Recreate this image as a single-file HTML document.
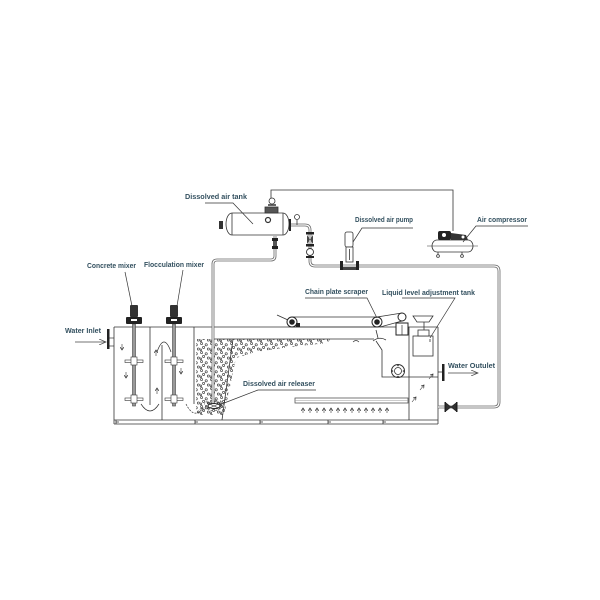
<!DOCTYPE html>
<html><head><meta charset="utf-8"><style>
html,body{margin:0;padding:0;background:#fff;}
svg{display:block;}
text{font-family:"Liberation Sans",sans-serif;font-weight:bold;font-size:7px;fill:#33505f;}
</style></head><body>
<svg width="600" height="600" viewBox="0 0 600 600" xmlns="http://www.w3.org/2000/svg">
<defs>
<pattern id="bub" width="10" height="9" patternUnits="userSpaceOnUse">
<g fill="none" stroke="#3a3a3a" stroke-width="0.65">
<circle cx="1.5" cy="1.5" r="1.1"/><circle cx="6.2" cy="2.8" r="1.1"/><circle cx="3.6" cy="5.4" r="1.1"/><circle cx="8.4" cy="7" r="1.1"/><circle cx="0.8" cy="7.8" r="0.9"/>
</g></pattern>
<pattern id="bub2" width="5" height="5" patternUnits="userSpaceOnUse">
<g fill="none" stroke="#333" stroke-width="0.6"><circle cx="1.2" cy="1.2" r="0.9"/><circle cx="3.7" cy="3.5" r="0.9"/></g></pattern>
<marker id="ah" markerWidth="4" markerHeight="4" refX="3" refY="2" orient="auto" markerUnits="userSpaceOnUse"><path d="M0,0 L3,2 L0,4" fill="none" stroke="#333" stroke-width="0.7"/></marker>
<marker id="oa" markerWidth="8" markerHeight="6" refX="7" refY="3" orient="auto" markerUnits="userSpaceOnUse"><path d="M0,0 L7,3 L0,6" fill="none" stroke="#444" stroke-width="0.7"/></marker>
</defs>
<rect width="600" height="600" fill="#fff"/>

<!-- bubbles -->
<polygon points="196,339 330,339 328,343 290,347 255,352 236,358 224,415 196,415" fill="url(#bub)"/>
<ellipse cx="214" cy="405" rx="10" ry="6" fill="url(#bub2)"/>

<g stroke="#333" stroke-width="0.8" fill="none">
<!-- tank -->
<line x1="114" y1="327" x2="438" y2="327"/>
<line x1="114" y1="327" x2="114" y2="424"/>
<line x1="438" y1="327" x2="438" y2="424"/>
<line x1="114" y1="420" x2="438" y2="420"/>
<line x1="114" y1="424" x2="438" y2="424"/>
<path d="M116,420 V424 M116,422 H119 M195,420 V424 M195,422 H198 M260,420 V424 M260,422 H263 M328,420 V424 M328,422 H331 M383,420 V424 M383,422 H386"/>
<!-- partitions -->
<line x1="150" y1="327" x2="150" y2="405"/>
<line x1="162" y1="345" x2="162" y2="420"/>
<line x1="194" y1="327" x2="194" y2="404"/>
<line x1="233" y1="339" x2="222" y2="420"/>
<line x1="409" y1="327" x2="409" y2="420"/>
<!-- scum line -->
<line x1="213" y1="339" x2="374" y2="339"/>
<path d="M353,342 Q356,339 359,342" stroke-width="0.6"/>
<!-- sludge trough -->
<path d="M376,330 L378,338 M373,341 Q379,336 386,340 M376,341 L382,350 L382,377 L438,377"/>
<circle cx="398" cy="371" r="6.5" stroke-width="1"/>
<circle cx="398" cy="371" r="3.5"/>
</g>
<g fill="#333"><circle cx="398" cy="365.5" r="0.8"/><circle cx="398" cy="376.5" r="0.8"/><circle cx="392.5" cy="371" r="0.8"/><circle cx="403.5" cy="371" r="0.8"/></g>

<!-- liquid level tank -->
<g stroke="#333" stroke-width="0.8" fill="#fff">
<rect x="413" y="336" width="20" height="20"/>
<rect x="418" y="330" width="11" height="6"/>
<line x1="424" y1="322" x2="424" y2="330"/>
<path d="M413,316 L433,316 L429,322 L417,322 Z"/>
<line x1="430" y1="339" x2="430" y2="342"/>
</g>

<!-- scraper -->
<g stroke="#333" stroke-width="0.8" fill="none">
<line x1="292" y1="317" x2="377" y2="317"/>
<line x1="292" y1="327" x2="377" y2="327"/>
<line x1="277" y1="315" x2="288" y2="320"/>
<line x1="377" y1="317" x2="402" y2="313"/>
<line x1="380" y1="327" x2="402" y2="321"/>
</g>
<g stroke="#222" stroke-width="1" fill="#fff">
<circle cx="292" cy="322" r="5"/><circle cx="377" cy="322" r="5"/>
<circle cx="402" cy="317" r="4"/>
<rect x="396" y="323" width="12" height="12"/>
</g>
<g fill="#222"><circle cx="292" cy="322" r="2.8"/><circle cx="377" cy="322" r="2.8"/><rect x="296" y="323" width="4" height="4"/></g>
<line x1="402" y1="325" x2="402" y2="335" stroke="#333" stroke-width="0.7"/>

<!-- perforated pipe -->
<rect x="295" y="398" width="113" height="5" fill="#fff" stroke="#555" stroke-width="0.8"/>
<line x1="295" y1="400.5" x2="408" y2="400.5" stroke="#999" stroke-width="0.5"/>
<g stroke="#333" stroke-width="0.6" marker-end="url(#ah)">
<line x1="303" y1="413" x2="303" y2="408"/><line x1="310" y1="413" x2="310" y2="408"/><line x1="317" y1="413" x2="317" y2="408"/><line x1="324" y1="413" x2="324" y2="408"/><line x1="331" y1="413" x2="331" y2="408"/><line x1="338" y1="413" x2="338" y2="408"/><line x1="345" y1="413" x2="345" y2="408"/><line x1="352" y1="413" x2="352" y2="408"/><line x1="359" y1="413" x2="359" y2="408"/><line x1="366" y1="413" x2="366" y2="408"/><line x1="373" y1="413" x2="373" y2="408"/><line x1="380" y1="413" x2="380" y2="408"/><line x1="387" y1="413" x2="387" y2="408"/>
<!-- chamber arrows -->
<line x1="122" y1="344" x2="122" y2="350"/>
<line x1="126" y1="372" x2="126" y2="378"/>
<line x1="156" y1="356" x2="156" y2="350"/>
<line x1="157" y1="394" x2="157" y2="388"/>
<line x1="181" y1="368" x2="181" y2="374"/>
<line x1="412" y1="402" x2="416" y2="397"/>
<line x1="420" y1="390" x2="424" y2="385"/>
<line x1="429" y1="379" x2="433" y2="374"/>
</g>
<g stroke="#333" stroke-width="0.7" fill="none">
<path d="M141,404 Q150,418 159,404"/>
<path d="M157,352 Q164,332 171,352"/>
<path d="M186,404 Q194,420 203,408" stroke-dasharray="2,1.2" marker-end="url(#ah)"/>
</g>

<!-- mixers -->
<g>
<rect x="132.5" y="324" width="3" height="82" fill="#999" stroke="#444" stroke-width="0.6"/>
<rect x="130" y="305" width="8" height="12" fill="#333" rx="1"/>
<rect x="126" y="317" width="16" height="7" fill="#222" rx="1"/>
<rect x="131" y="319" width="6" height="2" fill="#fff"/>
<rect x="125" y="360" width="18" height="2.5" fill="#fff" stroke="#333" stroke-width="0.6"/>
<rect x="131" y="357" width="6" height="8" fill="#fff" stroke="#333" stroke-width="0.6"/>
<rect x="125" y="398" width="18" height="2.5" fill="#fff" stroke="#333" stroke-width="0.6"/>
<rect x="131" y="395" width="6" height="8" fill="#fff" stroke="#333" stroke-width="0.6"/>

<rect x="172.5" y="324" width="3" height="82" fill="#999" stroke="#444" stroke-width="0.6"/>
<rect x="170" y="305" width="8" height="12" fill="#333" rx="1"/>
<rect x="166" y="317" width="16" height="7" fill="#222" rx="1"/>
<rect x="171" y="319" width="6" height="2" fill="#fff"/>
<rect x="165" y="360" width="18" height="2.5" fill="#fff" stroke="#333" stroke-width="0.6"/>
<rect x="171" y="357" width="6" height="8" fill="#fff" stroke="#333" stroke-width="0.6"/>
<rect x="165" y="398" width="18" height="2.5" fill="#fff" stroke="#333" stroke-width="0.6"/>
<rect x="171" y="395" width="6" height="8" fill="#fff" stroke="#333" stroke-width="0.6"/>
</g>

<!-- inlet -->
<line x1="75" y1="342" x2="106" y2="342" stroke="#444" stroke-width="0.7" marker-end="url(#oa)"/>
<rect x="107" y="329" width="2.5" height="20" fill="#222"/>
<line x1="109.5" y1="338" x2="114" y2="338" stroke="#333" stroke-width="0.7"/>
<line x1="109.5" y1="346" x2="114" y2="346" stroke="#333" stroke-width="0.7"/>

<!-- outlet -->
<line x1="438" y1="372" x2="442" y2="372" stroke="#333" stroke-width="0.8"/>
<rect x="442" y="364" width="2.5" height="17" fill="#222"/>
<line x1="448" y1="373" x2="478" y2="373" stroke="#444" stroke-width="0.7" marker-end="url(#oa)"/>

<!-- pipes (double line) -->
<g fill="none" stroke-linejoin="round">
<path d="M275,236 L275,256 Q275,260 271,260 L217,260 Q213,260 213,264 L213,404" stroke="#666" stroke-width="2.8"/>
<path d="M275,236 L275,256 Q275,260 271,260 L217,260 Q213,260 213,264 L213,404" stroke="#fff" stroke-width="1.2"/>
<path d="M290,225 L305,225 Q310,225 310,230 L310,261 Q310,266 315,266 L494,266 Q499,266 499,271 L499,402 Q499,407 494,407 L438,407" stroke="#666" stroke-width="2.8"/>
<path d="M290,225 L305,225 Q310,225 310,230 L310,261 Q310,266 315,266 L494,266 Q499,266 499,271 L499,402 Q499,407 494,407 L438,407" stroke="#fff" stroke-width="1.2"/>
</g>
<!-- releaser -->
<ellipse cx="214" cy="406" rx="6" ry="2.5" fill="#fff" stroke="#222" stroke-width="0.9"/>
<path d="M207,409 L221,403 M207,403 L221,409" stroke="#333" stroke-width="0.6"/>

<!-- bottom-right valve -->
<path d="M446,403 L456,411 L456,403 L446,411 Z" fill="#333" stroke="#222" stroke-width="0.6"/>
<rect x="444.5" y="402" width="1.5" height="10" fill="#222"/>
<rect x="456" y="402" width="1.5" height="10" fill="#222"/>

<!-- air line -->
<path d="M271,204 L271,190 L453,190 L453,231" fill="none" stroke="#333" stroke-width="0.8"/>

<!-- air tank -->
<g stroke="#333" stroke-width="0.8">
<path d="M232,213 L283,213 A6,11 0 0 1 283,235 L232,235 A6,11 0 0 1 232,213 Z" fill="#fff"/>
<line x1="232" y1="213" x2="232" y2="235"/>
<line x1="283" y1="213" x2="283" y2="235"/>
<circle cx="268" cy="220" r="2.5" fill="#fff" stroke-width="1.2"/>
<rect x="265" y="207" width="13" height="6" fill="#555"/>
<line x1="268" y1="205" x2="276" y2="205" stroke-width="1.5"/>
<circle cx="272" cy="201" r="3" fill="#fff"/>
<line x1="297" y1="220" x2="297" y2="225"/>
<circle cx="297" cy="217" r="2.5" fill="#fff"/>
</g>
<rect x="219" y="221" width="4" height="8" fill="#333"/>
<rect x="289" y="219" width="2" height="12" fill="#222"/>
<!-- tank outlet valves -->
<rect x="272" y="238" width="6" height="3" fill="#222"/>
<rect x="273" y="241" width="4" height="5" fill="#555"/>
<rect x="272" y="246" width="6" height="3" fill="#222"/>
<!-- vertical pipe valves -->
<rect x="306" y="232" width="8" height="2.5" fill="#222"/>
<path d="M307,235 L313,244 L313,235 L307,244 Z" fill="#444"/>
<rect x="306" y="244" width="8" height="2.5" fill="#222"/>
<circle cx="310" cy="252" r="3.5" fill="#fff" stroke="#333" stroke-width="0.9"/>
<rect x="306" y="256" width="8" height="2" fill="#222"/>

<!-- pump -->
<g stroke="#333" stroke-width="0.8" fill="#fff">
<rect x="345" y="232" width="8" height="15" rx="2"/>
<rect x="346" y="247" width="7" height="15"/>
<line x1="349.5" y1="249" x2="349.5" y2="260"/>
</g>
<rect x="340" y="261" width="3" height="9" fill="#222"/>
<rect x="356" y="261" width="3" height="9" fill="#222"/>
<rect x="343" y="267" width="13" height="3" fill="#444"/>

<!-- compressor -->
<g stroke="#333" stroke-width="0.8" fill="#fff">
<path d="M437,240 L468,240 A5,6 0 0 1 468,252 L437,252 A5,6 0 0 1 437,240 Z"/>
<line x1="427" y1="246" x2="478" y2="246" stroke-width="0.6"/>
<line x1="438" y1="252" x2="438" y2="255"/><line x1="462" y1="252" x2="462" y2="255"/>
<circle cx="438" cy="256" r="1.4"/><circle cx="462" cy="256" r="1.4"/>
</g>
<rect x="438" y="231" width="13" height="9" rx="2" fill="#222"/>
<path d="M451,233 L466,235 L468,240 L451,240 Z" fill="#333"/>
<circle cx="444" cy="235" r="2" fill="#fff"/>
<circle cx="463" cy="237" r="1.5" fill="#fff"/>

<!-- leader lines -->
<g stroke="#333" stroke-width="0.7" fill="none">
<path d="M125,272 L132,306"/>
<path d="M183,270 L177,306"/>
<path d="M205,203 L233,203 L253,224"/>
<path d="M413,228 L362,228 L353,242"/>
<path d="M528,226 L476,226 L463,242"/>
<path d="M305,298 L367,298 L377,318"/>
<path d="M402,298 L455,298 L430,338"/>
<path d="M316,390 L258,390 L219,405"/>
</g>

<!-- labels -->
<text x="185" y="199" textLength="62" lengthAdjust="spacingAndGlyphs">Dissolved air tank</text>
<text x="355" y="222" textLength="58" lengthAdjust="spacingAndGlyphs">Dissolved air pump</text>
<text x="477" y="222" textLength="50" lengthAdjust="spacingAndGlyphs">Air compressor</text>
<text x="87" y="268" textLength="49" lengthAdjust="spacingAndGlyphs">Concrete mixer</text>
<text x="144" y="267" textLength="60" lengthAdjust="spacingAndGlyphs">Flocculation mixer</text>
<text x="65" y="333" textLength="36" lengthAdjust="spacingAndGlyphs">Water Inlet</text>
<text x="305" y="294" textLength="63" lengthAdjust="spacingAndGlyphs">Chain plate scraper</text>
<text x="382" y="295" textLength="93" lengthAdjust="spacingAndGlyphs">Liquid level adjustment tank</text>
<text x="448" y="368" textLength="47" lengthAdjust="spacingAndGlyphs">Water Outulet</text>
<text x="243" y="386" textLength="72" lengthAdjust="spacingAndGlyphs">Dissolved air releaser</text>
</svg>
</body></html>
